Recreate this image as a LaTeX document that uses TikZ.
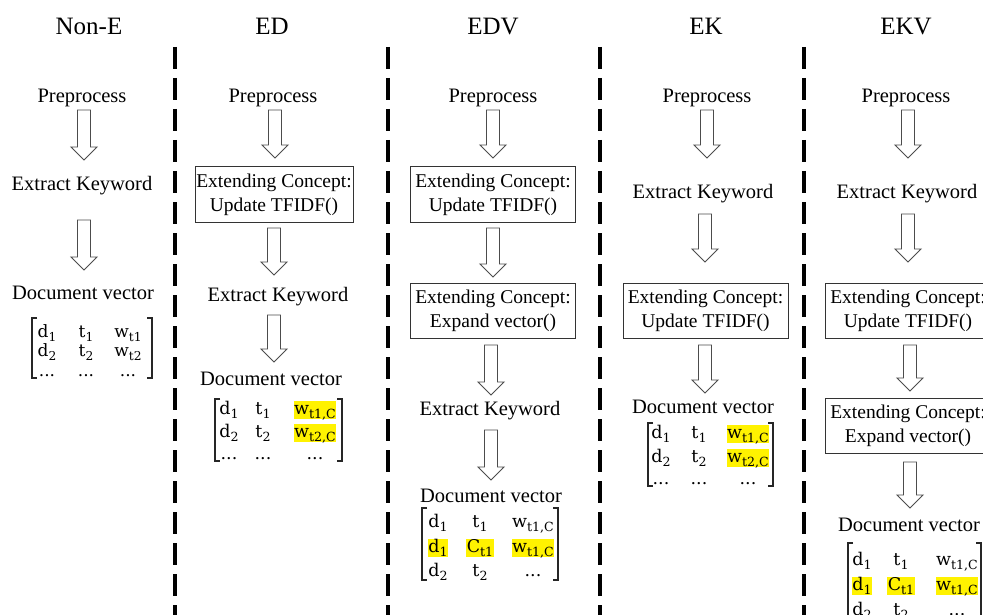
\documentclass[tikz,border=0pt]{standalone}
\usepackage{fontspec}
\setmainfont{Liberation Serif}
\newfontfamily\matfont{DejaVu Serif}
\usetikzlibrary{calc}

% lowered, reduced subscript for the vector entries
\newcommand\lowsub[1]{\raisebox{-0.25em}{\scalebox{0.72}{#1}}}
% hollow block arrow pointing down: x, top y, tip y
\newcommand\hollowarrow[3]{%
  \draw[hollow] (#1-6.5,#2) -- (#1+6.5,#2) -- (#1+6.5,#3-13) -- (#1+13,#3-13)
    -- (#1,#3) -- (#1-13,#3-13) -- (#1-6.5,#3-13) -- cycle;}
% square brackets around a vector: left x, right x, top y, bottom y
\newcommand\vecbrackets[4]{%
  \draw[bracket] (#1+5,#3) -- (#1,#3) -- (#1,#4) -- (#1+5,#4);
  \draw[bracket] (#2-5,#3) -- (#2,#3) -- (#2,#4) -- (#2-5,#4);}

\tikzset{
  title/.style={font=\fontsize{25}{30}\selectfont, anchor=base, inner sep=0},
  lbl/.style={font=\fontsize{20.5}{24}\selectfont, anchor=base, inner sep=0},
  stepbox/.style={draw=black!80, line width=1pt, font=\fontsize{19.5}{24}\selectfont,
    align=center, minimum width=165, minimum height=55, inner sep=0},
  mbig/.style={anchor=base, inner sep=0.6pt, text height=12.5pt, text depth=4pt,
    font=\matfont\fontsize{17.5}{20}\selectfont},
  msmall/.style={anchor=base, inner sep=0.6pt, text height=12pt, text depth=4pt,
    font=\matfont\fontsize{17}{19}\selectfont},
  hl/.style={fill=yellow},
  bracket/.style={draw=black!85, line width=1.2pt},
  sep/.style={line width=3.5pt, dash pattern=on 22pt off 9pt},
  hollow/.style={draw=black!70, line width=0.9pt, fill=white, line join=miter},
}

\begin{document}
\begin{tikzpicture}[x=1pt, y=-1pt]
\useasboundingbox (0,0) rectangle (983,615);
\clip (0,0) rectangle (983,615);
\fill[white] (0,0) rectangle (983,615);

% column separators
\foreach \sx in {175,388,600,804}
  \draw[sep] (\sx,47) -- (\sx,615);

% ---------------- Non-E ----------------
\node[title] (t1) at (89,35) {Non-E};
\node[lbl] (p1) at (82,103) {Preprocess};
\node[lbl] (k1) at (82,190) {Extract Keyword};
\node[lbl] (v1) at (83,299) {Document vector};
\hollowarrow{84}{110}{160}
\hollowarrow{84}{220}{270}
\node[msmall] (m1a) at (47,337) {d\lowsub{1}};
\node[msmall] (m1b) at (86,337) {t\lowsub{1}};
\node[msmall] (m1c) at (128,337) {w\lowsub{t1}};
\node[msmall] (m1d) at (47,356) {d\lowsub{2}};
\node[msmall] (m1e) at (86,356) {t\lowsub{2}};
\node[msmall] (m1f) at (128,356) {w\lowsub{t2}};
\node[msmall] (m1g) at (47,376) {...};
\node[msmall] (m1h) at (86,376) {...};
\node[msmall] (m1i) at (128,376) {...};
\vecbrackets{32}{152}{318}{378}

% ---------------- ED ----------------
\node[title] (t2) at (272,35) {ED};
\node[lbl] (p2) at (273,103) {Preprocess};
\node[stepbox, minimum width=158] (b2a) at (274,194.5) {Extending Concept:\\Update TFIDF()};
\node[lbl] (k2) at (278,301) {Extract Keyword};
\node[lbl] (v2) at (271,385) {Document vector};
\hollowarrow{275}{110}{158}
\hollowarrow{274}{228}{275}
\hollowarrow{274}{315}{362}
\node[mbig] (m2a) at (229,414) {d\lowsub{1}};
\node[mbig] (m2b) at (263,414) {t\lowsub{1}};
\node[mbig,hl] (m2c) at (315,414) {w\lowsub{t1,C}};
\node[mbig] (m2d) at (229,437) {d\lowsub{2}};
\node[mbig] (m2e) at (263,437) {t\lowsub{2}};
\node[mbig,hl] (m2f) at (315,437) {w\lowsub{t2,C}};
\node[mbig] (m2g) at (229,459) {...};
\node[mbig] (m2h) at (263,459) {...};
\node[mbig] (m2i) at (315,459) {...};
\vecbrackets{215}{342}{399}{461}

% ---------------- EDV ----------------
\node[title] (t3) at (493,35) {EDV};
\node[lbl] (p3) at (493,103) {Preprocess};
\node[stepbox] (b3a) at (493,194.5) {Extending Concept:\\Update TFIDF()};
\node[stepbox] (b3b) at (493,310.5) {Extending Concept:\\Expand vector()};
\node[lbl] (k3) at (490,415) {Extract Keyword};
\node[lbl] (v3) at (491,502) {Document vector};
\hollowarrow{493}{110}{158}
\hollowarrow{493}{228}{277}
\hollowarrow{491}{345}{395}
\hollowarrow{491}{430}{480}
\node[mbig] (m3a) at (438,527) {d\lowsub{1}};
\node[mbig] (m3b) at (480,527) {t\lowsub{1}};
\node[mbig] (m3c) at (533,527) {w\lowsub{t1,C}};
\node[mbig,hl] (m3d) at (438,552) {d\lowsub{1}};
\node[mbig,hl] (m3e) at (480,552) {C\lowsub{t1}};
\node[mbig,hl] (m3f) at (533,552) {w\lowsub{t1,C}};
\node[mbig] (m3g) at (438,576) {d\lowsub{2}};
\node[mbig] (m3h) at (480,576) {t\lowsub{2}};
\node[mbig] (m3i) at (533,576) {...};
\vecbrackets{422}{558}{508}{580}

% ---------------- EK ----------------
\node[title] (t4) at (706,35) {EK};
\node[lbl] (p4) at (707,103) {Preprocess};
\node[lbl] (k4) at (703,198) {Extract Keyword};
\node[stepbox] (b4) at (705.5,310.5) {Extending Concept:\\Update TFIDF()};
\node[lbl] (v4) at (703,413) {Document vector};
\hollowarrow{707}{110}{158}
\hollowarrow{705}{214}{262}
\hollowarrow{705}{345}{393}
\node[mbig] (m4a) at (661,438) {d\lowsub{1}};
\node[mbig] (m4b) at (699,438) {t\lowsub{1}};
\node[mbig,hl] (m4c) at (748,438) {w\lowsub{t1,C}};
\node[mbig] (m4d) at (661,462) {d\lowsub{2}};
\node[mbig] (m4e) at (699,462) {t\lowsub{2}};
\node[mbig,hl] (m4f) at (748,462) {w\lowsub{t2,C}};
\node[mbig] (m4g) at (661,484) {...};
\node[mbig] (m4h) at (699,484) {...};
\node[mbig] (m4i) at (748,484) {...};
\vecbrackets{648}{773}{423}{486}

% ---------------- EKV ----------------
\node[title] (t5) at (906,35) {EKV};
\node[lbl] (p5) at (906,103) {Preprocess};
\node[lbl] (k5) at (907,198) {Extract Keyword};
\node[stepbox] (b5a) at (908,311) {Extending Concept:\\Update TFIDF()};
\node[stepbox] (b5b) at (908,425.5) {Extending Concept:\\Expand vector()};
\node[lbl] (v5) at (909,531) {Document vector};
\hollowarrow{908}{110}{158}
\hollowarrow{908}{214}{262}
\hollowarrow{910}{345}{391}
\hollowarrow{910}{462}{508}
\node[mbig] (m5a) at (862,565) {d\lowsub{1}};
\node[mbig] (m5b) at (901,565) {t\lowsub{1}};
\node[mbig] (m5c) at (957,565) {w\lowsub{t1,C}};
\node[mbig,hl] (m5d) at (862,590) {d\lowsub{1}};
\node[mbig,hl] (m5e) at (901,590) {C\lowsub{t1}};
\node[mbig,hl] (m5f) at (957,590) {w\lowsub{t1,C}};
\node[mbig] (m5g) at (862,615) {d\lowsub{2}};
\node[mbig] (m5h) at (901,615) {t\lowsub{2}};
\node[mbig] (m5i) at (957,615) {...};
\vecbrackets{848}{981}{543}{622}
\end{tikzpicture}
\end{document}
